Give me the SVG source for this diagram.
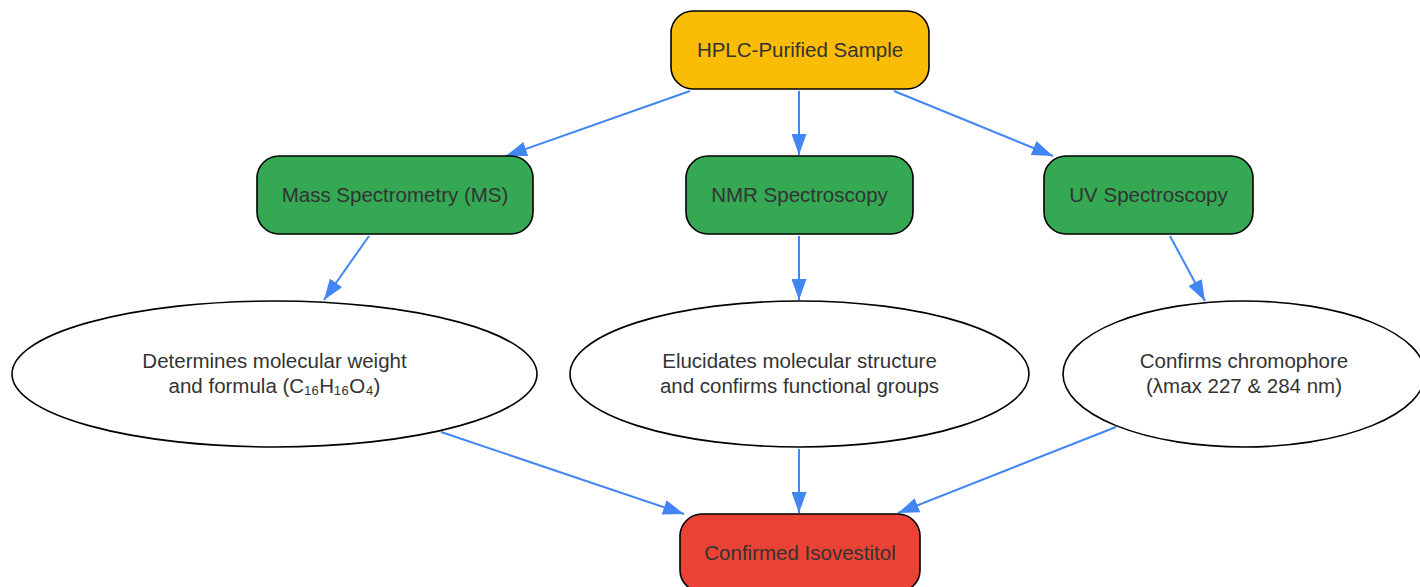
<svg xmlns="http://www.w3.org/2000/svg" width="1420" height="587" viewBox="0 0 1420 587">
<defs>
<marker id="arr" viewBox="0 0 21 15" refX="21" refY="7.5" markerWidth="21" markerHeight="15" markerUnits="userSpaceOnUse" orient="auto">
<path d="M0,0 L21,7.5 L0,15 z" fill="#4285F4"/>
</marker>
</defs>
<style>
.box{stroke:#000;stroke-width:1.6}
.ell{fill:#fff;stroke:#000;stroke-width:1.6}
.t{font-family:"Liberation Sans",Arial,sans-serif;font-size:20.5px;fill:#333;text-anchor:middle}
.e{fill:none;stroke:#4285F4;stroke-width:2;marker-end:url(#arr)}
</style>
<rect width="1420" height="587" fill="#fff"/>
<g id="connectors">
<line class="e" x1="690" y1="91" x2="506" y2="156"/>
<line class="e" x1="799" y1="91" x2="799" y2="155"/>
<line class="e" x1="894" y1="91" x2="1053" y2="156"/>
<line class="e" x1="369" y1="236" x2="324" y2="300"/>
<line class="e" x1="799" y1="236" x2="799" y2="300"/>
<line class="e" x1="1170" y1="236" x2="1205" y2="301"/>
<line class="e" x1="441" y1="432" x2="684" y2="514"/>
<line class="e" x1="799" y1="449" x2="799" y2="513"/>
<line class="e" x1="1116" y1="427" x2="898" y2="513"/>
</g>
<g id="hplc">
<rect class="box" x="671" y="11" width="258" height="78" rx="22" fill="#FBBC05"/>
<text class="t" x="800" y="57">HPLC-Purified Sample</text>
</g>
<g id="ms">
<rect class="box" x="257" y="156" width="276" height="78" rx="22" fill="#34A853"/>
<text class="t" x="395" y="202">Mass Spectrometry (MS)</text>
</g>
<g id="nmr">
<rect class="box" x="686" y="156" width="227" height="78" rx="22" fill="#34A853"/>
<text class="t" x="799.5" y="202">NMR Spectroscopy</text>
</g>
<g id="uv">
<rect class="box" x="1044" y="156" width="209" height="78" rx="22" fill="#34A853"/>
<text class="t" x="1148.5" y="202">UV Spectroscopy</text>
</g>
<g id="ms-result">
<ellipse class="ell" cx="274.5" cy="374" rx="262.5" ry="73"/>
<text class="t" x="274.5" y="368">Determines molecular weight</text>
<text class="t" x="274.5" y="393">and formula (C₁₆H₁₆O₄)</text>
</g>
<g id="nmr-result">
<ellipse class="ell" cx="799.5" cy="374" rx="229.5" ry="73"/>
<text class="t" x="799.5" y="368">Elucidates molecular structure</text>
<text class="t" x="799.5" y="393">and confirms functional groups</text>
</g>
<g id="uv-result">
<ellipse class="ell" cx="1244" cy="374" rx="181" ry="73"/>
<text class="t" x="1244" y="368">Confirms chromophore</text>
<text class="t" x="1244" y="393">(λmax 227 &amp; 284 nm)</text>
</g>
<g id="confirmed">
<rect class="box" x="680" y="514" width="240" height="78" rx="22" fill="#EA4335"/>
<text class="t" x="800" y="560">Confirmed Isovestitol</text>
</g>
</svg>
